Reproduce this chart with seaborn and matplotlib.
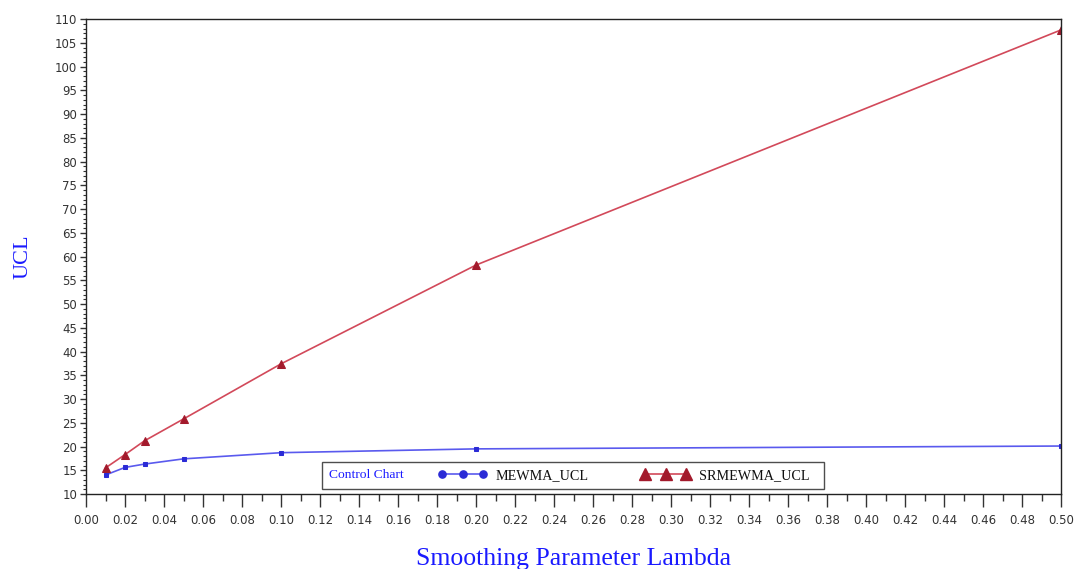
import matplotlib
matplotlib.use("Agg")
import matplotlib.pyplot as plt
from matplotlib.lines import Line2D
from matplotlib.offsetbox import HPacker, DrawingArea
from matplotlib.ticker import MultipleLocator, FormatStrFormatter
import seaborn as sns
import pandas as pd

# Smoothing parameter values and upper control limits
lambdas = [0.01, 0.02, 0.03, 0.05, 0.10, 0.20, 0.50]
mewma_ucl = [14.0, 15.6, 16.3, 17.4, 18.7, 19.5, 20.1]
srmewma_ucl = [15.5, 18.3, 21.2, 25.8, 37.4, 58.2, 107.7]

series_names = ["MEWMA_UCL", "SRMEWMA_UCL"]
legend_title = "Control Chart"
x_label = "Smoothing Parameter Lambda"
y_label = "UCL"

blue_line = "#5a5aee"
blue_mark = "#2b2bd6"
red_line = "#d2495a"
red_mark = "#a31a2c"
label_blue = "#1a1aff"

sns.set_theme(style="white")
plt.rcParams["font.family"] = ["DejaVu Sans"]

df = pd.DataFrame({
    "lambda": lambdas * 2,
    "ucl": mewma_ucl + srmewma_ucl,
    "series": [series_names[0]] * len(lambdas) + [series_names[1]] * len(lambdas),
})

fig = plt.figure(figsize=(10.74, 5.69), dpi=100)
ax = fig.add_axes([0.0801, 0.1318, 0.9078, 0.8348])

sns.lineplot(data=df[df.series == series_names[0]], x="lambda", y="ucl", ax=ax,
             color=blue_line, linewidth=1.2, marker="s", markersize=2.8,
             markerfacecolor=blue_mark, markeredgecolor=blue_mark, legend=False)
sns.lineplot(data=df[df.series == series_names[1]], x="lambda", y="ucl", ax=ax,
             color=red_line, linewidth=1.2, marker="^", markersize=5.4,
             markerfacecolor=red_mark, markeredgecolor=red_mark, legend=False)

ax.set_xlim(0, 0.5)
ax.set_ylim(10, 110)
ax.xaxis.set_major_locator(MultipleLocator(0.02))
ax.xaxis.set_minor_locator(MultipleLocator(0.01))
ax.xaxis.set_major_formatter(FormatStrFormatter("%.2f"))
ax.yaxis.set_major_locator(MultipleLocator(5))
ax.yaxis.set_minor_locator(MultipleLocator(1))

for side, sp in ax.spines.items():
    sp.set_color("#222222")
    sp.set_linewidth(1.0)
    sp.set_visible(True)

ax.tick_params(axis="x", which="major", direction="out", length=9.4, width=1.0,
               color="#333333", labelsize=8.5, labelcolor="#333333", pad=5,
               bottom=True, top=False)
ax.tick_params(axis="x", which="minor", direction="out", length=5, width=1.0,
               color="#333333", bottom=True, top=False)
ax.tick_params(axis="y", which="major", direction="out", length=4.3, width=1.0,
               color="#333333", labelsize=8.5, labelcolor="#333333", pad=2,
               left=True, right=False)
ax.tick_params(axis="y", which="minor", direction="out", length=2.2, width=0.8,
               color="#333333", left=True, right=False)

ax.set_xlabel(x_label, family="Liberation Serif", fontsize=18.5, color=label_blue,
              labelpad=15)
ax.set_ylabel(y_label, family="Liberation Serif", fontsize=16, color=label_blue,
              labelpad=16)

handles = [
    Line2D([], [], color=blue_line, linewidth=1.2, marker="o", markersize=5.2,
           markerfacecolor=blue_mark, markeredgecolor=blue_mark),
    Line2D([], [], color=red_line, linewidth=1.2, marker="^", markersize=9,
           markerfacecolor=red_mark, markeredgecolor=red_mark),
]
leg = ax.legend(handles, series_names, loc="lower center",
                bbox_to_anchor=(0.4995, 0.0), ncol=2, numpoints=3,
                handlelength=3.5, handletextpad=0.56, columnspacing=3.7,
                frameon=True, fancybox=False, borderpad=0.45, borderaxespad=0.36,
                title=legend_title,
                prop={"family": "Liberation Serif", "size": 10.2})
leg.get_frame().set_edgecolor("#222222")
leg.get_frame().set_linewidth(1.0)
title = leg.get_title()
title.set_color(label_blue)
title.set_family("Liberation Serif")
title.set_fontsize(9.7)
for t in leg.get_texts():
    t.set_color("#111111")

# Place the legend title beside the entries instead of above them
row = HPacker(pad=0, sep=25, align="center",
              children=[leg._legend_title_box, leg._legend_handle_box])
leg._legend_box = HPacker(pad=5, sep=0, align="center",
                          children=[row, DrawingArea(6, 1)])
leg._legend_box.set_figure(fig)
leg._legend_box.set_offset(leg._findoffset)

fig.savefig("out.png", dpi=100)
